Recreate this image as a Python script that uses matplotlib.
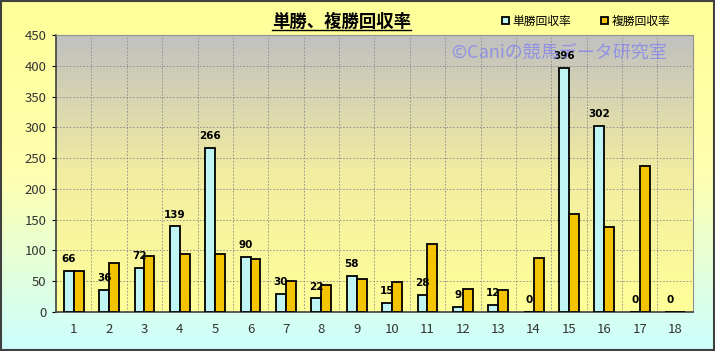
import numpy as np
import matplotlib
matplotlib.use('Agg')
import matplotlib.pyplot as plt
from matplotlib.colors import LinearSegmentedColormap
from matplotlib.patches import Rectangle

plt.rcParams['font.family'] = ['Noto Sans CJK JP', 'DejaVu Sans']

horses = list(range(1, 19))
tansho = [66, 36, 72, 139, 266, 90, 30, 22, 58, 15, 28, 9, 12, 0, 396, 302, 0, 0]
fukusho = [67, 79, 91, 95, 95, 86, 50, 44, 53, 49, 111, 37, 35, 87, 160, 138, 238, 0]
title = '単勝、複勝回収率'
names = ['単勝回収率', '複勝回収率']

fig = plt.figure(figsize=(7.15, 3.51), dpi=100)

# figure background gradient (yellow -> light cyan)
bg = fig.add_axes([0, 0, 1, 1], zorder=-10)
cm_bg = LinearSegmentedColormap.from_list('bg', ['#FFFF99', '#FFFFB0', '#CCFFFF'])
bg.imshow(np.linspace(0, 1, 256).reshape(-1, 1), cmap=cm_bg, aspect='auto',
          extent=[0, 1, 0, 1])
bg.add_patch(Rectangle((0.001, 0.002), 0.997, 0.995, fill=False,
                       edgecolor='#404040', lw=1.5, transform=bg.transAxes))
bg.axis('off')

ax = fig.add_axes([0.0783, 0.111, 0.8907, 0.789])
x = np.arange(len(horses))
w = 0.28

# plot area gradient (gray -> light yellow)
cm_pa = LinearSegmentedColormap.from_list('pa', ['#C0C0C0', '#F2EDA0', '#FFFF99'])
ax.imshow(np.linspace(0, 1, 256).reshape(-1, 1), cmap=cm_pa, aspect='auto',
          extent=[-0.5, len(horses) - 0.5, 0, 450], zorder=0)

b1 = ax.bar(x - w / 2, tansho, w, color='#BFF5F5', edgecolor='black', lw=1.3,
            zorder=3, label=names[0])
b2 = ax.bar(x + w / 2, fukusho, w, color='#F5C400', edgecolor='black', lw=1.3,
            zorder=3, label=names[1])

for xi, v in zip(x, tansho):
    ax.annotate(str(v), (xi - w / 2, v), xytext=(0, 5), textcoords='offset points',
                ha='center', va='bottom', fontsize=7.5, fontweight='bold',
                family='DejaVu Sans', zorder=4)

ax.set_xlim(-0.5, len(horses) - 0.5)
ax.set_ylim(0, 450)
ax.set_yticks(range(0, 451, 50))
ax.set_xticks(x)
ax.set_xticklabels([str(h) for h in horses])
ax.set_xticks(np.arange(0.5, len(horses) - 1, 1), minor=True)
ax.grid(True, axis='y', ls=(0, (2, 2)), color='#8A8A8A', lw=0.6, zorder=1)
ax.grid(True, axis='x', which='minor', ls=(0, (2, 2)), color='#8A8A8A', lw=0.6, zorder=1)
ax.tick_params(axis='x', which='both', length=0, pad=8, labelsize=9.5, labelcolor='#333333')
ax.tick_params(axis='y', length=3, labelsize=9.5, labelcolor='#333333', pad=4)
for s in ['left', 'bottom']:
    ax.spines[s].set_color('#404040')
    ax.spines[s].set_linewidth(1.2)
for s in ['right', 'top']:
    ax.spines[s].set_color('#909090')

t = fig.text(0.478, 0.937, title, ha='center', va='center', fontsize=12.5,
             fontweight='bold')
# underline for title
fig.canvas.draw()
bb = t.get_window_extent().transformed(fig.transFigure.inverted())
fig.add_artist(plt.Line2D([bb.x0, bb.x1], [bb.y0 + 0.003, bb.y0 + 0.003],
                          color='black', lw=1, transform=fig.transFigure))

fig.legend(handles=[b1, b2], loc='center', bbox_to_anchor=(0.82, 0.94), ncol=2,
           frameon=False, fontsize=8.5, handlelength=0.6, handleheight=0.6,
           handletextpad=0.3, columnspacing=2.5)

fig.text(0.632, 0.851, '©Caniの競馬データ研究室', ha='left', va='center',
         fontsize=13, color='#7070FF', alpha=0.6, zorder=5)

fig.savefig('out.png', dpi=100)
